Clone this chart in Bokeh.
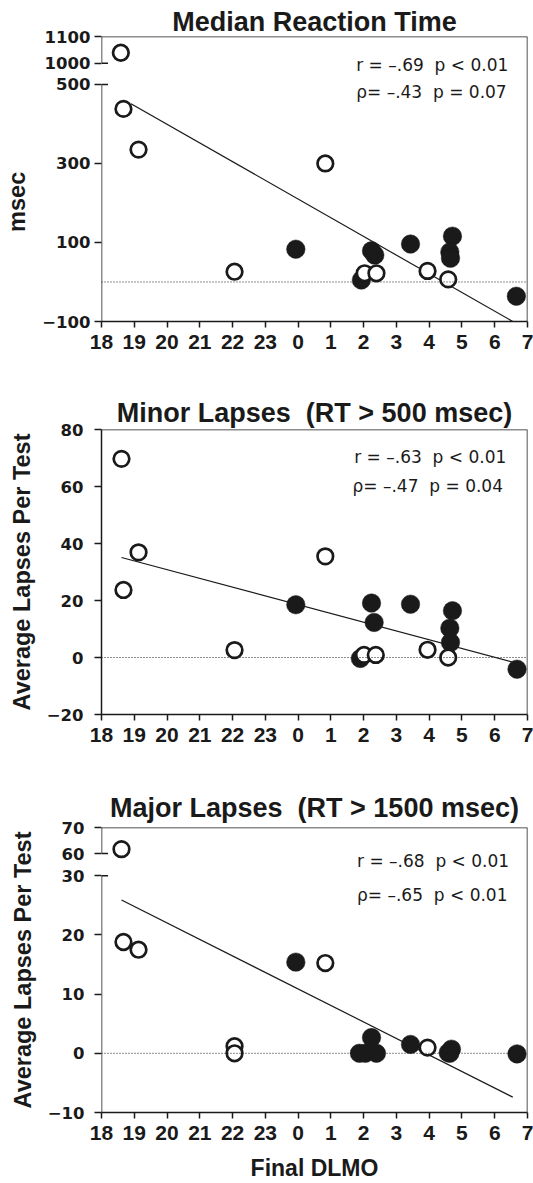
import math
from bokeh.plotting import figure
from bokeh.models import Range1d, FixedTicker, Span, Label, Arrow
from bokeh.layouts import column
from bokeh.embed import file_html
from bokeh.resources import INLINE

# ---------------- data ----------------
hour_ticks = list(range(18, 32))            # 18..31 (31 = 7 h next day)
hour_labels = [str(h % 24) for h in hour_ticks]

# Panel 1: Median Reaction Time (msec)
rt_open_x = [18.59, 18.67, 19.13, 22.06, 24.83, 26.03, 26.39, 27.95, 28.58]
rt_open_y = [1039, 438, 335, 26, 300, 22, 22, 28, 6.5]
rt_fill_x = [23.93, 25.93, 26.24, 26.34, 27.43, 28.71, 28.63, 28.65, 30.66]
rt_fill_y = [83, 5, 79, 68, 96, 116, 76, 60, -36]
rt_trend_x = [18.9, 30.55]
rt_trend_y = [451, -100]
rt_ticks = [-100, 100, 300, 500, 1000, 1100]
rt_tick_labels = ["\u2212100", "100", "300", "500", "1000", "1100"]
rt_stats = ["r = \u2013.69\u00a0\u00a0p < 0.01", "\u03c1= \u2013.43\u00a0\u00a0p = 0.07"]

# Panel 2: Minor lapses
mn_open_x = [18.61, 18.67, 19.13, 22.06, 24.83, 26.01, 26.37, 27.95, 28.58]
mn_open_y = [69.7, 23.7, 36.9, 2.6, 35.5, 0.9, 0.9, 2.7, 0]
mn_fill_x = [23.93, 25.9, 26.24, 26.32, 27.43, 28.71, 28.63, 28.65, 30.68]
mn_fill_y = [18.5, -0.35, 19.1, 12.3, 18.7, 16.4, 10.3, 5.3, -4.1]
mn_trend_x = [18.61, 30.6]
mn_trend_y = [35.1, -1.8]
mn_ticks = [-20, 0, 20, 40, 60, 80]
mn_tick_labels = ["\u221220", "0", "20", "40", "60", "80"]
mn_stats = ["r = \u2013.63\u00a0\u00a0p < 0.01", "\u03c1= \u2013.47\u00a0\u00a0p = 0.04"]

# Panel 3: Major lapses
mj_open_x = [18.61, 18.67, 19.13, 22.06, 22.06, 24.83, 27.95]
mj_open_y = [61.7, 18.8, 17.5, 1.2, 0, 15.25, 0.96]
mj_fill_x = [23.93, 25.87, 26.05, 26.24, 26.39, 27.43, 28.58, 28.68, 28.63, 30.68]
mj_fill_y = [15.4, 0, 0, 2.65, 0, 1.5, 0.1, 0.7, 0, -0.1]
mj_trend_x = [18.61, 30.55]
mj_trend_y = [25.9, -7.4]
mj_ticks = [-10, 0, 10, 20, 30, 60, 70]
mj_tick_labels = ["\u221210", "0", "10", "20", "30", "60", "70"]
mj_stats = ["r = \u2013.68\u00a0\u00a0p < 0.01", "\u03c1= \u2013.65\u00a0\u00a0p < 0.01"]

titles = ["Median Reaction Time",
          "Minor Lapses\u00a0\u00a0(RT > 500 msec)",
          "Major Lapses\u00a0\u00a0(RT > 1500 msec)"]
ylabels = ["msec" + "\u00a0" * 7, "Average Lapses Per Test", "Average Lapses Per Test"]
xlabel = "Final DLMO"

# ---------------- style ----------------
INK = "#1a1a1a"
W = 533
LEFT = 101
RIGHT = 6
FRAME_W = W - LEFT - RIGHT
FRAME_H = 285
SANS = "Liberation Sans"
WIDE = "DejaVu Sans"


def make_break(top, base, gap, slope):
    def f(v):
        return v if v <= top else round(top + gap + (v - base) * slope, 3)
    return f


def panel(fig_h, border_top, title, title_standoff, ylabel, ylabel_standoff,
          y_lo, ticks, tick_labels, tick_standoff, brk, brk_info,
          open_x, open_y, fill_x, fill_y, trend_x, trend_y, stats, stats_pos,
          x_label=None, x_label_standoff=0):
    tf = brk if brk else (lambda v: v)
    disp_ticks = [tf(t) for t in ticks]
    y_hi = disp_ticks[-1]
    p = figure(width=W, height=fig_h, output_backend="svg", toolbar_location=None,
               x_range=Range1d(18, 31), y_range=Range1d(y_lo, y_hi),
               min_border_left=LEFT, min_border_right=RIGHT,
               min_border_top=border_top, min_border_bottom=fig_h - border_top - FRAME_H)
    p.outline_line_color = None
    p.xgrid.visible = False
    p.ygrid.visible = False
    p.background_fill_color = "white"
    p.border_fill_color = "white"

    # title
    p.title.text = title
    p.title.align = "center"
    p.title.text_font = SANS
    p.title.text_font_style = "bold"
    p.title.text_font_size = "27px"
    p.title.text_color = INK
    p.title.standoff = title_standoff

    # x axis
    xa = p.xaxis[0]
    xa.ticker = FixedTicker(ticks=hour_ticks)
    xa.major_label_overrides = {h: lab for h, lab in zip(hour_ticks, hour_labels)}
    xa.minor_tick_line_color = None
    xa.major_tick_in = 0
    xa.major_tick_out = 6
    xa.major_tick_line_width = 1.5
    xa.major_tick_line_color = INK
    xa.axis_line_width = 1.5
    xa.axis_line_color = INK
    xa.major_label_text_font = SANS
    xa.major_label_text_font_style = "bold"
    xa.major_label_text_font_size = "21px"
    xa.major_label_text_color = INK
    xa.major_label_standoff = 7
    if x_label:
        xa.axis_label = x_label
        xa.axis_label_text_font = SANS
        xa.axis_label_text_font_style = "bold"
        xa.axis_label_text_font_size = "23px"
        xa.axis_label_text_color = INK
        xa.axis_label_text_line_height = 0.8
        xa.axis_label_standoff = x_label_standoff

    # y axis
    ya = p.yaxis[0]
    ya.ticker = FixedTicker(ticks=disp_ticks)
    ya.major_label_overrides = {d: lab for d, lab in zip(disp_ticks, tick_labels)}
    ya.minor_tick_line_color = None
    ya.major_tick_in = 0
    ya.major_tick_out = 7
    ya.major_tick_line_width = 1.5
    ya.major_tick_line_color = INK
    ya.axis_line_width = 1.5
    ya.axis_line_color = INK if brk is None else None
    ya.major_label_text_font = WIDE
    ya.major_label_text_font_style = "bold"
    ya.major_label_text_font_size = "16.5px"
    ya.major_label_text_color = INK
    ya.major_label_standoff = tick_standoff
    ya.axis_label = ylabel
    ya.axis_label_text_font = SANS
    ya.axis_label_text_font_style = "bold"
    ya.axis_label_text_font_size = "23.5px"
    ya.axis_label_text_color = INK
    ya.axis_label_standoff = ylabel_standoff

    # frame top and right
    p.add_layout(Span(location=y_hi, dimension="width", line_color=INK, line_width=1.5))
    p.add_layout(Span(location=31, dimension="height", line_color=INK, line_width=1.5))
    # broken left axis
    if brk is not None:
        low_top, high_base = brk_info
        for a, b in [(y_lo, tf(low_top)), (tf(high_base), y_hi)]:
            p.add_layout(Arrow(end=None, x_start=18, y_start=a, x_end=18, y_end=b,
                               line_color=INK, line_width=1.5))
        for t in (tf(low_top), tf(high_base)):
            p.add_layout(Arrow(end=None, x_start=18, y_start=t, x_end=18.2, y_end=t,
                               line_color=INK, line_width=1.5))
    # zero reference
    p.add_layout(Span(location=0, dimension="width", line_color=INK, line_width=1,
                      line_dash="1 2"))

    # trend line
    p.line(trend_x, [tf(v) for v in trend_y], line_color=INK, line_width=1.2)
    # points
    p.scatter(fill_x, [tf(v) for v in fill_y], marker="circle", size=18.5,
              fill_color=INK, line_color=INK, line_width=0.5)
    p.scatter(open_x, [tf(v) for v in open_y], marker="circle", size=15.6,
              fill_color="white", line_color=INK, line_width=2.7)

    # stats
    for txt, (sx, sy) in zip(stats, stats_pos):
        p.add_layout(Label(x=sx, y=sy, x_units="screen", y_units="screen", text=txt,
                           text_align="left", text_baseline="alphabetic",
                           text_font=WIDE, text_font_size="17px", text_color=INK))
    return p


p1 = panel(380, 36, titles[0], -1, ylabels[0], 9,
           -100, rt_ticks, rt_tick_labels, 4, make_break(500, 1000, 53.8, 0.674), (500, 1000),
           rt_open_x, rt_open_y, rt_fill_x, rt_fill_y, rt_trend_x, rt_trend_y,
           rt_stats, [(254.7, 256.7), (254.7, 230)])

p2 = panel(390, 49, titles[1], 4, ylabels[1], 9,
           -20, mn_ticks, mn_tick_labels, 11, None, None,
           mn_open_x, mn_open_y, mn_fill_x, mn_fill_y, mn_trend_x, mn_trend_y,
           mn_stats, [(252.7, 257.3), (251, 229)])

p3 = panel(413, 57, titles[2], 9.6, ylabels[2], 9,
           -10, mj_ticks, mj_tick_labels, 10, make_break(30, 60, 3.73, 0.441), (30, 60),
           mj_open_x, mj_open_y, mj_fill_x, mj_fill_y, mj_trend_x, mj_trend_y,
           mj_stats, [(255.5, 251.3), (255.5, 218)],
           x_label=xlabel, x_label_standoff=12)

layout = column(p1, p2, p3, spacing=0)
open("out.html", "w").write(file_html(layout, INLINE))
